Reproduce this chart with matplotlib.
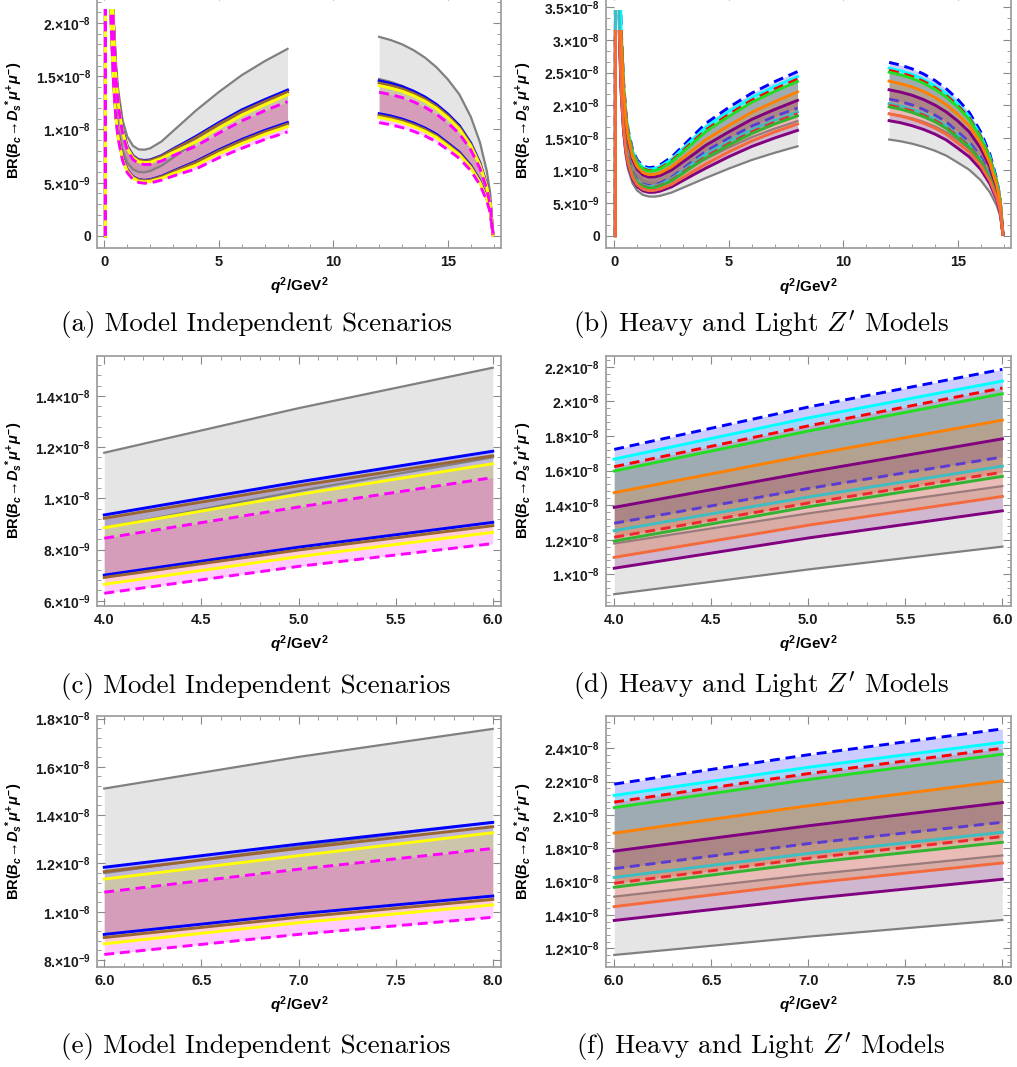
import matplotlib.pyplot as plt
import numpy as np
from matplotlib.patches import Rectangle
from matplotlib.ticker import FixedLocator, MultipleLocator, FormatStrFormatter

plt.rcParams['font.family'] = ['Liberation Sans', 'DejaVu Sans']
plt.rcParams['font.weight'] = 'bold'
plt.rcParams['mathtext.fontset'] = 'custom'
plt.rcParams['mathtext.rm'] = 'Liberation Sans:bold'
plt.rcParams['mathtext.it'] = 'Liberation Sans:italic:bold'
plt.rcParams['mathtext.bf'] = 'Liberation Sans:bold'

# branching ratios below are in units of 1e-8
q2_low = [0.045, 0.05, 0.2, 0.3, 0.4, 0.5, 0.6, 0.8, 1.0, 1.25, 1.5, 1.75,
          2.0, 2.5, 3.0, 3.5, 4.0, 5.0, 6.0, 7.0, 8.0]
q2_high = [12.0, 12.5, 13.0, 13.5, 14.0, 14.5, 15.0, 15.5, 16.0, 16.4, 16.7,
           16.85, 16.97]

# SM band (gray)
sm_up_low = [0, 9.5, 4.35, 2.86, 2.10, 1.65, 1.38, 1.085, 0.935, 0.847, 0.813, 0.81,
             0.823, 0.888, 0.985, 1.081, 1.178, 1.352, 1.51, 1.641, 1.757]
sm_lo_low = [0, 7.0, 3.2, 2.1, 1.55, 1.22, 1.02, 0.80, 0.69, 0.625, 0.60, 0.598,
             0.61, 0.66, 0.735, 0.81, 0.885, 1.028, 1.16, 1.27, 1.37]
sm_up_high = [1.87, 1.84, 1.80, 1.745, 1.675, 1.585, 1.47, 1.33, 1.12, 0.88, 0.61, 0.40, 0.02]
sm_lo_high = [1.474, 1.447, 1.41, 1.362, 1.302, 1.226, 1.12, 1.01, 0.85, 0.665, 0.46, 0.30, 0.015]

# model independent scenarios
blue_up_low = [0, 9.4, 4.215, 2.74, 1.99, 1.548, 1.279, 0.991, 0.842, 0.754, 0.716, 0.709,
               0.714, 0.755, 0.817, 0.875, 0.935, 1.064, 1.184, 1.28, 1.37]
blue_lo_low = [0, 6.93, 3.1, 2.01, 1.47, 1.144, 0.946, 0.730, 0.621, 0.556, 0.529, 0.523,
               0.529, 0.561, 0.609, 0.655, 0.70, 0.809, 0.906, 0.991, 1.065]
blue_up_high = [1.457, 1.433, 1.402, 1.359, 1.305, 1.235, 1.145, 1.036, 0.872, 0.686, 0.475, 0.312, 0.016]
blue_lo_high = [1.148, 1.127, 1.098, 1.061, 1.014, 0.955, 0.872, 0.787, 0.662, 0.518, 0.358, 0.234, 0.012]

brown_up_low = [0, 9.4, 4.206, 2.734, 1.987, 1.543, 1.275, 0.985, 0.837, 0.749, 0.712, 0.704,
                0.708, 0.749, 0.809, 0.864, 0.922, 1.049, 1.166, 1.262, 1.352]
brown_lo_low = [0, 6.92, 3.094, 2.008, 1.466, 1.141, 0.942, 0.726, 0.618, 0.553, 0.526, 0.520,
                0.525, 0.556, 0.603, 0.647, 0.691, 0.798, 0.893, 0.977, 1.051]
brown_up_high = [1.436, 1.413, 1.382, 1.340, 1.286, 1.217, 1.129, 1.021, 0.860, 0.676, 0.468, 0.307, 0.015]
brown_lo_high = [1.132, 1.111, 1.083, 1.046, 1.0, 0.942, 0.860, 0.776, 0.653, 0.511, 0.353, 0.230, 0.012]

yellow_up_low = [0, 9.39, 4.19, 2.717, 1.97, 1.526, 1.26, 0.971, 0.823, 0.735, 0.698, 0.689,
                 0.692, 0.729, 0.784, 0.833, 0.885, 1.015, 1.135, 1.232, 1.327]
yellow_lo_low = [0, 6.92, 3.08, 1.995, 1.454, 1.129, 0.931, 0.716, 0.607, 0.543, 0.515, 0.509,
                 0.513, 0.542, 0.585, 0.625, 0.664, 0.772, 0.867, 0.954, 1.028]
yellow_up_high = [1.412, 1.389, 1.359, 1.317, 1.265, 1.197, 1.110, 1.004, 0.846, 0.664, 0.461, 0.302, 0.015]
yellow_lo_high = [1.113, 1.092, 1.065, 1.028, 0.983, 0.926, 0.846, 0.763, 0.642, 0.502, 0.347, 0.227, 0.011]

magenta_up_low = [0, 9.37, 4.163, 2.697, 1.951, 1.508, 1.242, 0.955, 0.807, 0.718, 0.680, 0.671,
                  0.672, 0.705, 0.754, 0.797, 0.844, 0.966, 1.081, 1.176, 1.262]
magenta_lo_low = [0, 6.9, 3.062, 1.98, 1.44, 1.115, 0.918, 0.704, 0.595, 0.530, 0.502, 0.495,
                  0.498, 0.524, 0.562, 0.597, 0.629, 0.734, 0.823, 0.906, 0.977]
magenta_up_high = [1.350, 1.328, 1.300, 1.260, 1.209, 1.144, 1.061, 0.960, 0.809, 0.635, 0.440, 0.289, 0.014]
magenta_lo_high = [1.064, 1.045, 1.018, 0.983, 0.940, 0.885, 0.809, 0.729, 0.614, 0.480, 0.332, 0.217, 0.011]

# heavy and light Z' models
zb_up_low = [0, 9.72, 4.71, 3.18, 2.38, 1.909, 1.628, 1.316, 1.159, 1.070, 1.042, 1.053,
             1.086, 1.204, 1.376, 1.550, 1.722, 1.967, 2.185, 2.361, 2.516]
zb_lo_low = [0, 7.16, 3.466, 2.333, 1.758, 1.412, 1.204, 0.970, 0.856, 0.789, 0.769, 0.777,
             0.805, 0.895, 1.027, 1.162, 1.295, 1.496, 1.678, 1.828, 1.956]
zb_up_high = [2.657, 2.615, 2.558, 2.480, 2.380, 2.252, 2.089, 1.890, 1.592, 1.250, 0.867, 0.568, 0.028]
zb_lo_high = [2.095, 2.056, 2.004, 1.935, 1.850, 1.742, 1.592, 1.435, 1.208, 0.945, 0.654, 0.426, 0.021]

zc_up_low = [0, 9.70, 4.676, 3.143, 2.352, 1.883, 1.602, 1.291, 1.136, 1.047, 1.019, 1.028,
             1.058, 1.171, 1.336, 1.502, 1.666, 1.904, 2.117, 2.286, 2.436]
zc_lo_low = [0, 7.15, 3.44, 2.308, 1.736, 1.392, 1.184, 0.952, 0.838, 0.773, 0.752, 0.759,
             0.784, 0.871, 0.997, 1.125, 1.252, 1.447, 1.625, 1.769, 1.896]
zc_up_high = [2.569, 2.528, 2.473, 2.398, 2.301, 2.178, 2.020, 1.827, 1.539, 1.209, 0.838, 0.550, 0.027]
zc_lo_high = [2.025, 1.988, 1.937, 1.871, 1.789, 1.685, 1.539, 1.388, 1.168, 0.914, 0.632, 0.412, 0.021]

zr_up_low = [0, 9.68, 4.646, 3.117, 2.329, 1.861, 1.581, 1.273, 1.117, 1.028, 0.999, 1.008,
             1.036, 1.145, 1.303, 1.463, 1.622, 1.858, 2.077, 2.248, 2.40]
zr_lo_low = [0, 7.13, 3.418, 2.289, 1.719, 1.376, 1.169, 0.938, 0.825, 0.759, 0.737, 0.744,
             0.768, 0.851, 0.972, 1.096, 1.214, 1.412, 1.59, 1.740, 1.87]
zr_up_high = [2.536, 2.495, 2.441, 2.366, 2.271, 2.149, 1.993, 1.803, 1.519, 1.193, 0.827, 0.542, 0.027]
zr_lo_high = [1.999, 1.962, 1.912, 1.847, 1.766, 1.662, 1.519, 1.370, 1.153, 0.902, 0.624, 0.407, 0.020]

zg_up_low = [0, 9.67, 4.624, 3.10, 2.314, 1.848, 1.569, 1.261, 1.106, 1.017, 0.988, 0.995,
             1.023, 1.129, 1.283, 1.439, 1.597, 1.828, 2.044, 2.212, 2.364]
zg_lo_low = [0, 7.13, 3.402, 2.276, 1.708, 1.366, 1.160, 0.930, 0.816, 0.751, 0.729, 0.735,
             0.758, 0.839, 0.958, 1.078, 1.192, 1.390, 1.566, 1.712, 1.836]
zg_up_high = [2.506, 2.466, 2.412, 2.338, 2.245, 2.124, 1.970, 1.782, 1.501, 1.179, 0.817, 0.536, 0.027]
zg_lo_high = [1.975, 1.939, 1.889, 1.825, 1.745, 1.643, 1.501, 1.353, 1.139, 0.891, 0.616, 0.402, 0.020]

zo_up_low = [0, 9.61, 4.541, 3.029, 2.249, 1.789, 1.512, 1.208, 1.055, 0.966, 0.935, 0.940,
             0.963, 1.056, 1.194, 1.331, 1.472, 1.689, 1.891, 2.055, 2.204]
zo_lo_low = [0, 7.08, 3.341, 2.224, 1.660, 1.322, 1.118, 0.890, 0.778, 0.713, 0.690, 0.694,
             0.714, 0.785, 0.891, 0.997, 1.098, 1.284, 1.45, 1.590, 1.712]
zo_up_high = [2.369, 2.331, 2.281, 2.211, 2.122, 2.008, 1.862, 1.685, 1.419, 1.115, 0.773, 0.507, 0.025]
zo_lo_high = [1.868, 1.833, 1.786, 1.726, 1.650, 1.553, 1.419, 1.280, 1.077, 0.843, 0.583, 0.380, 0.019]

zp_up_low = [0, 9.59, 4.485, 2.980, 2.205, 1.747, 1.472, 1.172, 1.019, 0.931, 0.899, 0.901,
             0.921, 1.006, 1.132, 1.257, 1.387, 1.591, 1.783, 1.935, 2.074]
zp_lo_low = [0, 7.06, 3.299, 2.188, 1.628, 1.292, 1.088, 0.864, 0.752, 0.687, 0.664, 0.665,
             0.683, 0.748, 0.845, 0.942, 1.035, 1.210, 1.367, 1.497, 1.614]
zp_up_high = [2.237, 2.201, 2.153, 2.087, 2.003, 1.896, 1.758, 1.591, 1.340, 1.052, 0.730, 0.478, 0.024]
zp_lo_high = [1.763, 1.731, 1.686, 1.629, 1.557, 1.466, 1.340, 1.208, 1.017, 0.795, 0.550, 0.359, 0.018]

# tick labels
yt_a = [0, 0.5, 1.0, 1.5, 2.0]
yl_a = ['0', '5.×10$^{-9}$', '1.×10$^{-8}$', '1.5×10$^{-8}$', '2.×10$^{-8}$']
yt_b = [0, 0.5, 1.0, 1.5, 2.0, 2.5, 3.0, 3.5]
yl_b = ['0', '5.×10$^{-9}$', '1.×10$^{-8}$', '1.5×10$^{-8}$', '2.×10$^{-8}$',
        '2.5×10$^{-8}$', '3.×10$^{-8}$', '3.5×10$^{-8}$']
yt_c = [0.6, 0.8, 1.0, 1.2, 1.4]
yl_c = ['6.×10$^{-9}$', '8.×10$^{-9}$', '1.×10$^{-8}$', '1.2×10$^{-8}$', '1.4×10$^{-8}$']
yt_d = [1.0, 1.2, 1.4, 1.6, 1.8, 2.0, 2.2]
yl_d = ['1.×10$^{-8}$', '1.2×10$^{-8}$', '1.4×10$^{-8}$', '1.6×10$^{-8}$',
        '1.8×10$^{-8}$', '2.×10$^{-8}$', '2.2×10$^{-8}$']
yt_e = [0.8, 1.0, 1.2, 1.4, 1.6, 1.8]
yl_e = ['8.×10$^{-9}$', '1.×10$^{-8}$', '1.2×10$^{-8}$', '1.4×10$^{-8}$',
        '1.6×10$^{-8}$', '1.8×10$^{-8}$']
yt_f = [1.2, 1.4, 1.6, 1.8, 2.0, 2.2, 2.4]
yl_f = ['1.2×10$^{-8}$', '1.4×10$^{-8}$', '1.6×10$^{-8}$', '1.8×10$^{-8}$',
        '2.×10$^{-8}$', '2.2×10$^{-8}$', '2.4×10$^{-8}$']

captions = ['(a) Model Independent Scenarios', "(b) Heavy and Light $Z'$ Models",
            '(c) Model Independent Scenarios', "(d) Heavy and Light $Z'$ Models",
            '(e) Model Independent Scenarios', "(f) Heavy and Light $Z'$ Models"]

GRAY = '#808080'
# (upper_low, lower_low, upper_high, lower_high, fill colour, upper line, lower line, dashed, fill alpha, clip top)
mi_bands = [
    (sm_up_low, sm_lo_low, sm_up_high, sm_lo_high, GRAY, GRAY, GRAY, False, 0.2, 2.13),
    (blue_up_low, blue_lo_low, blue_up_high, blue_lo_high, '#0000ff', '#0000ff', '#0000ff', False, 0.2, 2.13),
    (brown_up_low, brown_lo_low, brown_up_high, brown_lo_high, '#996633', '#996633', '#996633', False, 0.2, 2.13),
    (yellow_up_low, yellow_lo_low, yellow_up_high, yellow_lo_high, '#ffff00', '#ffff00', '#ffff00', False, 0.2, 2.13),
    (magenta_up_low, magenta_lo_low, magenta_up_high, magenta_lo_high, '#ff00ff', '#ff00ff', '#ff00ff', True, 0.2, 2.13),
]
zp_bands = [
    (sm_up_low, sm_lo_low, sm_up_high, sm_lo_high, GRAY, '#9a7b7b', GRAY, False, 0.2, 3.16),
    (zb_up_low, zb_lo_low, zb_up_high, zb_lo_high, '#0000ff', '#0000ff', '#5a3cd2', True, 0.2, 3.46),
    (zc_up_low, zc_lo_low, zc_up_high, zc_lo_high, '#00ffff', '#00ffff', '#3cbec3', False, 0.2, 3.46),
    (zr_up_low, zr_lo_low, zr_up_high, zr_lo_high, '#ff0000', '#ff0000', '#f0282d', True, 0.2, 3.16),
    (zg_up_low, zg_lo_low, zg_up_high, zg_lo_high, '#00b000', '#22dd22', '#32b432', False, 0.12, 3.16),
    (zp_up_low, zp_lo_low, zp_up_high, zp_lo_high, '#800080', '#800080', '#800080', False, 0.2, 3.16),
    (zo_up_low, zo_lo_low, zo_up_high, zo_lo_high, '#ff8000', '#ff8000', '#f46a3c', False, 0.2, 3.16),
]

W, H = 1017, 1067
fig = plt.figure(figsize=(W / 100, H / 100), dpi=100)


def axes_px(left, top, right, bottom):
    return fig.add_axes([left / W, 1 - bottom / H, (right - left) / W, (bottom - top) / H])


def clip(ax, artist, top):
    artist.set_clip_path(Rectangle((-5, -5), 30, top + 5, transform=ax.transData))


def window(x, y, x0, x1):
    x = np.asarray(x, float)
    y = np.asarray(y, float)
    m = (x >= x0 - 1e-9) & (x <= x1 + 1e-9)
    return x[m], y[m]


def draw(ax, bands, x0, x1, spike=True):
    segs = [(q2_low, 0, 1), (q2_high, 2, 3)]
    for q2, iu, il in segs:
        for b in bands:
            xs, up = window(q2, b[iu], x0, x1)
            _, lo = window(q2, b[il], x0, x1)
            if len(xs) < 2:
                continue
            poly = ax.fill_between(xs, lo, up, color=b[4], alpha=b[8], lw=0)
            if spike:
                clip(ax, poly, b[9])
        for b in bands:
            xs, up = window(q2, b[iu], x0, x1)
            _, lo = window(q2, b[il], x0, x1)
            if len(xs) < 2:
                continue
            lw = 1.6 if b[4] == GRAY else 2.1
            ls = (0, (3.4, 2.0)) if b[7] else '-'
            for y, c in ((up, b[5]), (lo, b[6])):
                ln, = ax.plot(xs, y, color=c, lw=lw, ls=ls)
                if spike:
                    clip(ax, ln, b[9])


def style(ax, xlim, ylim, xmaj, xmin, yt, yl, ymin, xfmt=None):
    ax.set_xlim(xlim)
    ax.set_ylim(ylim)
    ax.xaxis.set_major_locator(MultipleLocator(xmaj))
    ax.xaxis.set_minor_locator(MultipleLocator(xmin))
    if xfmt:
        ax.xaxis.set_major_formatter(FormatStrFormatter(xfmt))
    ax.yaxis.set_major_locator(FixedLocator(yt))
    ax.set_yticklabels(yl, fontweight='bold')
    ax.yaxis.set_minor_locator(MultipleLocator(ymin))
    ax.tick_params(which='both', direction='in', top=True, right=True, color='#8a8a8a',
                   labelsize=10, labelcolor='#1a1a1a')
    ax.tick_params(which='major', length=5.5, width=0.8)
    ax.tick_params(which='minor', length=3, width=0.6)
    ax.tick_params(axis='x', pad=5, labelsize=10.5)
    ax.tick_params(axis='y', pad=4)
    for s in ax.spines.values():
        s.set_color('#a0a0a0')
        s.set_linewidth(1.3)
    ax.set_xlabel(r'$q^{2}$/GeV$^{2}$', fontsize=11, labelpad=5, fontweight='bold')
    ax.set_ylabel(r'BR($B_c\!\rightarrow\!D_s{}^{*}\mu^{+}\mu^{-}$)', fontsize=10.5, fontweight='bold')
    ax.yaxis.set_label_coords(-0.178, 0.5)


# (a)
ax = axes_px(97, -8, 501, 248)
draw(ax, mi_bands, 0, 17.5)
style(ax, (-0.32, 17.32), (-0.113, 2.291), 5, 1, yt_a, yl_a, 0.1)

# (b)
ax = axes_px(605.7, -8, 1010.7, 248.3)
draw(ax, zp_bands, 0, 17.5)
style(ax, (-0.376, 17.31), (-0.194, 3.736), 5, 1, yt_b, yl_b, 0.5 / 3)

# (c)
ax = axes_px(96.7, 355.7, 501, 605.7)
draw(ax, mi_bands, 4, 6, spike=False)
style(ax, (3.961, 6.0425), (0.5805, 1.557), 0.5, 0.1, yt_c, yl_c, 0.04, '%.1f')

# (d)
ax = axes_px(605.7, 355.7, 1010.7, 605.7)
draw(ax, zp_bands, 4, 6, spike=False)
style(ax, (3.956, 6.043), (0.8185, 2.2636), 0.5, 0.1, yt_d, yl_d, 0.04, '%.1f')

# (e)
ax = axes_px(96.7, 716, 501, 966.7)
draw(ax, mi_bands, 6, 8, spike=False)
style(ax, (5.961, 8.0425), (0.7723, 1.8104), 0.5, 0.1, yt_e, yl_e, 0.04, '%.1f')

# (f)
ax = axes_px(605.7, 716, 1010.7, 966.7)
draw(ax, zp_bands, 6, 8, spike=False)
style(ax, (5.956, 8.043), (1.0896, 2.5935), 0.5, 0.1, yt_f, yl_f, 0.04, '%.1f')

cap_pos = [(256, 325), (761, 325), (256, 686), (761, 686), (256, 1047), (761, 1047)]
for (cx, cy), txt in zip(cap_pos, captions):
    fig.text(cx / W, 1 - cy / H, txt, ha='center', va='center', fontsize=19.5,
             family='cmr10', weight='normal', math_fontfamily='cm')

fig.savefig('out.png', dpi=100)
